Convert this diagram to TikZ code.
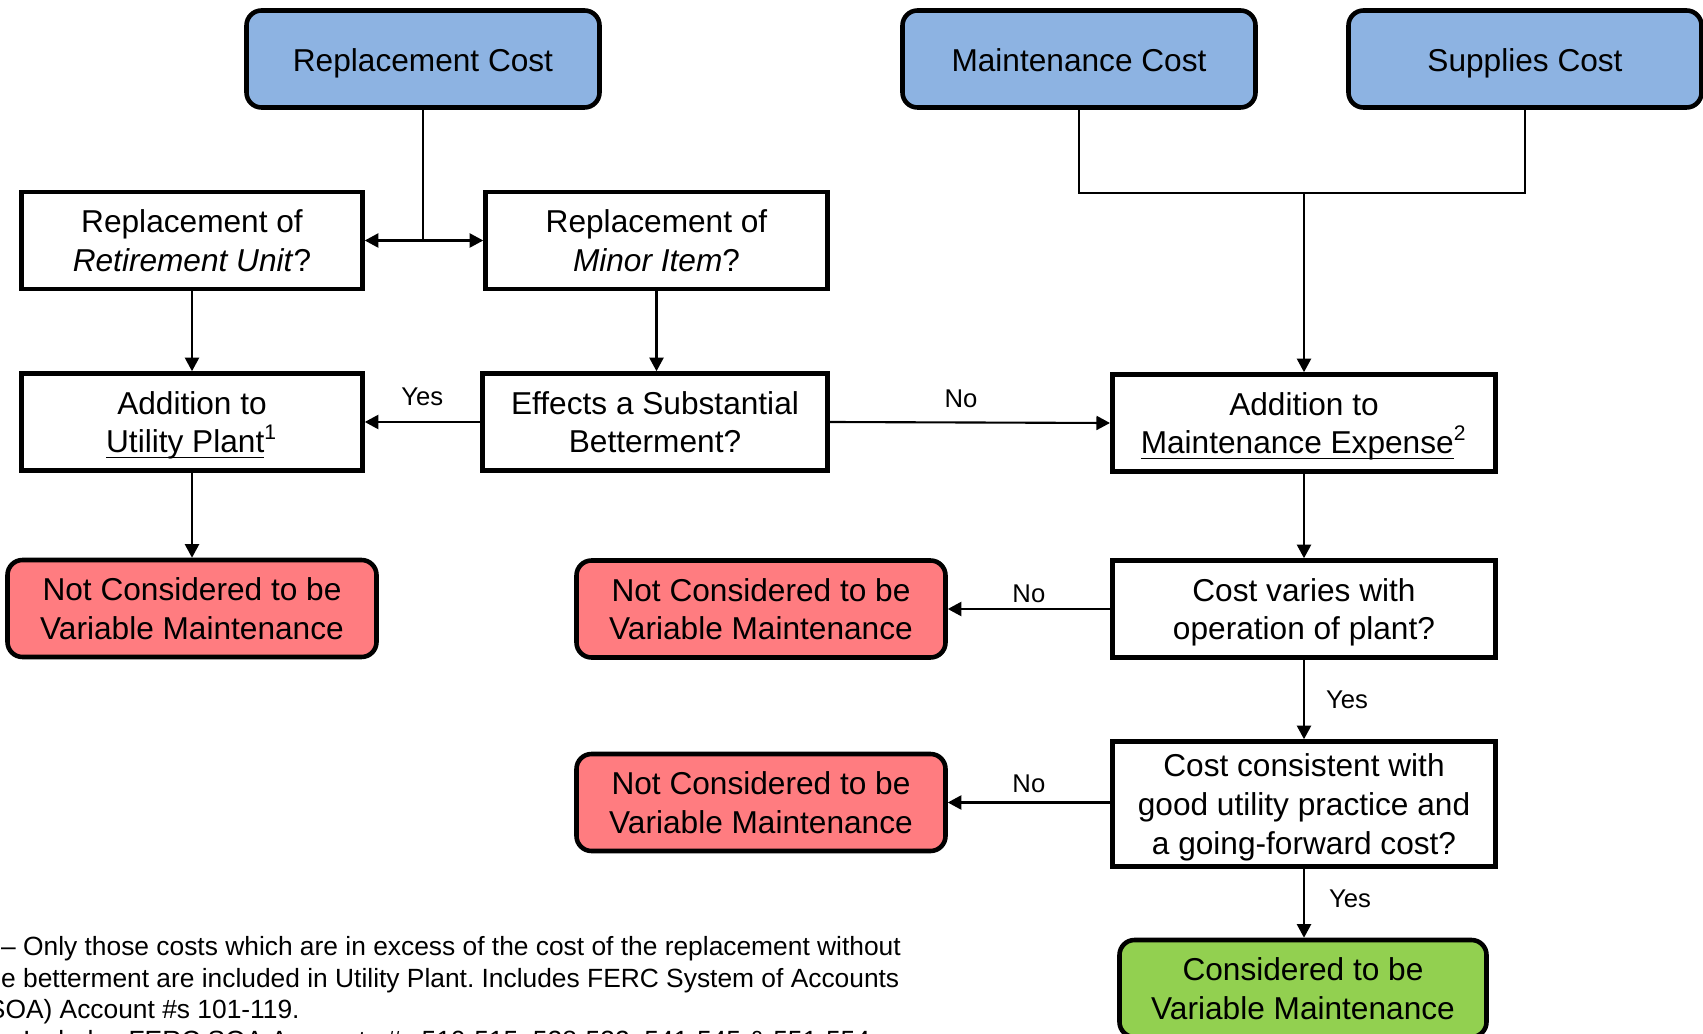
\documentclass[tikz,border=0pt]{standalone}
\usepackage{fontspec}
\setsansfont{Liberation Sans}
\usetikzlibrary{arrows.meta, calc}
\definecolor{costblue}{HTML}{8DB3E2}
\definecolor{notred}{HTML}{FF7C80}
\definecolor{yesgreen}{HTML}{92D050}
\newcommand{\ulnote}[1]{\underline{\smash{#1}}}

\begin{document}
\begin{tikzpicture}[font=\sffamily\fontsize{9}{11}\selectfont,
	qbox/.style={draw, line width=1.3pt, align=center, inner sep=1pt, minimum height=0.97cm, text depth=0pt},
	costbox/.style={qbox, rounded corners=0.15cm, fill=costblue, minimum width=3.53cm, text height=0.72em},
	notbox/.style={qbox, rounded corners=0.15cm, fill=notred, minimum width=3.69cm},
	flow/.style={line width=0.6pt, -{Triangle[length=1.35mm, width=1.4mm]}},
	lbl/.style={font=\sffamily\fontsize{7.3}{9}\selectfont, inner sep=0pt}]
	\useasboundingbox (0,0) rectangle (17.03,-10.34);
	
	\node[costbox] (repl) at (4.23,-0.59) {Replacement Cost};
	\node[costbox] (maint) at (10.79,-0.59) {Maintenance Cost};
	\node[costbox] (supp) at (15.25,-0.59) {Supplies Cost};
	
	\node[qbox, minimum width=3.41cm] (retire) at (1.92,-2.405) {Replacement of\\\textit{Retirement Unit}?};
	\node[qbox, minimum width=3.42cm] (minor) at (6.565,-2.405) {Replacement of\\\textit{Minor Item}?};
	\node[qbox, minimum width=3.41cm] (plant) at (1.92,-4.22) {Addition to\\\ulnote{Utility Plant}\textsuperscript{1}};
	\node[qbox, minimum width=3.455cm] (better) at (6.55,-4.22) {Effects a Substantial\\Betterment?};
	\node[qbox, minimum width=3.835cm] (expense) at (13.04,-4.23) {Addition to\\\ulnote{Maintenance Expense}\textsuperscript{2}};
	
	\node[notbox] (notA) at (1.92,-6.085) {Not Considered to be\\Variable Maintenance};
	\node[notbox] (notB) at (7.61,-6.09) {Not Considered to be\\Variable Maintenance};
	\node[qbox, minimum width=3.835cm] (varies) at (13.04,-6.09) {Cost varies with\\operation of plant?};
	\node[notbox] (notC) at (7.61,-8.025) {Not Considered to be\\Variable Maintenance};
	\node[qbox, minimum width=3.835cm, minimum height=1.25cm] (prudent) at (13.04,-8.04) {Cost consistent with\\good utility practice and\\a going-forward cost?};
	\node[qbox, rounded corners=0.15cm, fill=yesgreen, minimum width=3.67cm] (isvar) at (13.03,-9.885) {Considered to be\\Variable Maintenance};
	
	\coordinate (split) at (repl.south |- retire.east);
	\coordinate (merge) at ($(expense.north)+(0,1.79)$);
	\draw[line width=0.6pt] (repl.south) -- (split);
	\draw[flow] (split) -- (retire.east);
	\draw[flow] (split) -- (minor.west);
	\draw[flow] (retire) -- (plant);
	\draw[flow] (minor.south) -- (minor.south |- better.north);
	\draw[flow] (better.west) -- node[lbl, above=0.15cm]{Yes} (plant.east);
	\draw[flow] (better.east) -- node[lbl, above=0.14cm, xshift=-0.09cm]{No} (expense.west);
	\draw[flow] (plant) -- (notA);
	
	\draw[line width=0.6pt] (maint.south) |- (merge) -| (supp.south);
	\draw[flow] (merge) -- (expense.north);
	\draw[flow] (expense) -- (varies);
	\draw[flow] (varies.west) -- node[lbl, above=0.05cm]{No} (notB.east);
	\draw[flow] (varies) -- node[lbl, right=0.21cm]{Yes} (prudent);
	\draw[flow] (prudent.west |- notC.east) -- node[lbl, above=0.09cm]{No} (notC.east);
	\draw[flow] (prudent.south) -- node[lbl, right=0.24cm, yshift=0.04cm]{Yes} (prudent.south |- isvar.north);
	
	\node[lbl, font=\sffamily\fontsize{7.5}{8.93}\selectfont\frenchspacing, anchor=north west, align=left] (notes) at (-0.215,-9.36) {1 -- Only those costs which are in excess of the cost of the replacement without\\the betterment are included in Utility Plant. Includes FERC System of Accounts\\(SOA) Account \#s 101-119.\\2 -- Includes FERC SOA Accounts \#s 510-515, 528-532, 541-545 \& 551-554};
\end{tikzpicture}
\end{document}
